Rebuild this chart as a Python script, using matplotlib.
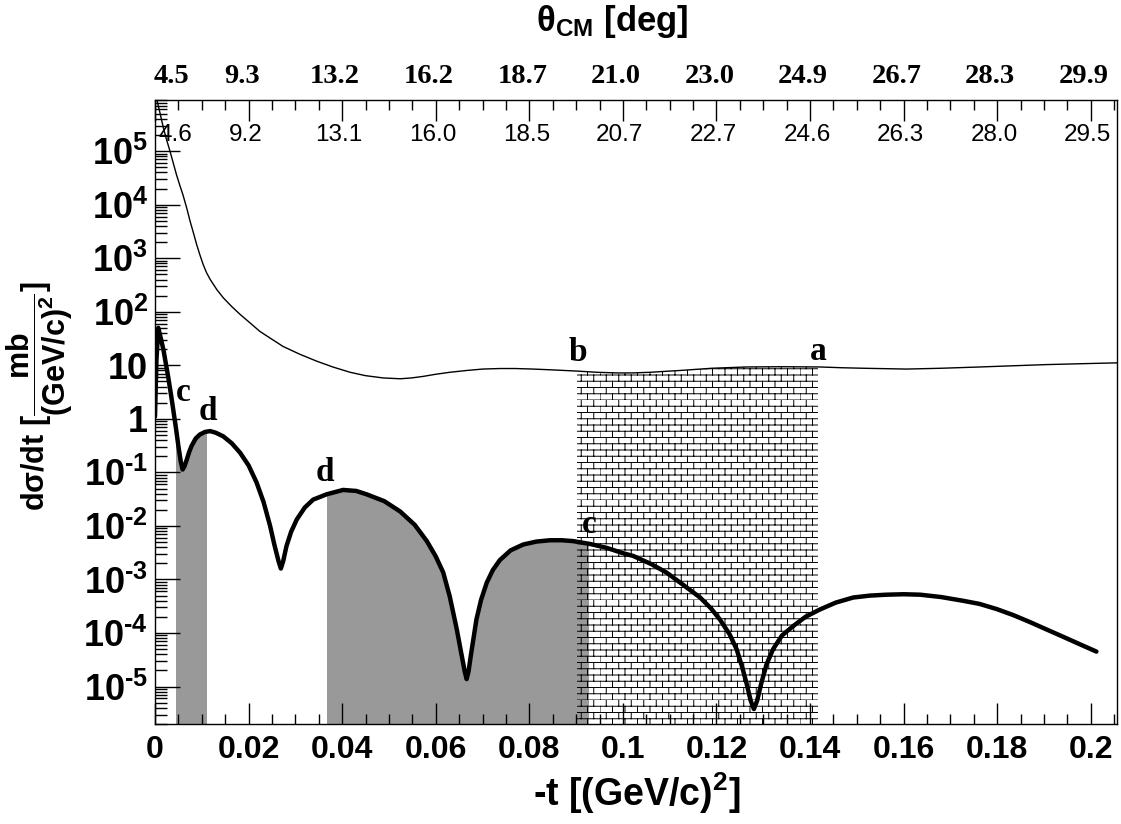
import warnings
import numpy as np
import matplotlib
matplotlib.use("Agg")
import matplotlib.pyplot as plt
from matplotlib import hatch as mhatch
from matplotlib import transforms
from matplotlib.path import Path
from matplotlib.patches import Rectangle
from matplotlib.ticker import MultipleLocator, LogLocator, FuncFormatter, NullFormatter

warnings.filterwarnings("ignore")

# upper (thin) curve: -t and dsigma/dt
t_upper = [0.0002, 0.0004, 0.0011, 0.0018, 0.0025, 0.0032, 0.0039, 0.0046, 0.0053,
           0.006, 0.0068, 0.0075, 0.0082, 0.0089, 0.0096, 0.0103, 0.011, 0.0118,
           0.0132, 0.0146, 0.0164, 0.0182, 0.0203, 0.0224, 0.0249, 0.0274, 0.031,
           0.0346, 0.038, 0.0417, 0.045, 0.0488, 0.0524, 0.0548, 0.0573, 0.06,
           0.063, 0.0666, 0.07, 0.0737, 0.077, 0.0808, 0.085, 0.0901, 0.0945,
           0.0987, 0.102, 0.1058, 0.109, 0.1122, 0.119, 0.1264, 0.134, 0.1421,
           0.1468, 0.1514, 0.1606, 0.168, 0.1763, 0.1835, 0.1905, 0.198, 0.2055]
xs_upper = [1.26e6, 9.1e5, 5.0e5, 2.7e5, 1.6e5, 1.0e5, 6.0e4, 3.6e4, 2.3e4,
            1.5e4, 8.5e3, 4.9e3, 3.0e3, 1.8e3, 1.15e3, 760, 540, 400,
            260, 182, 125, 89, 62, 43, 31, 22.4, 16,
            11.9, 9.3, 7.4, 6.4, 5.8, 5.6, 5.8, 6.2, 6.8,
            7.4, 8.0, 8.5, 8.7, 8.7, 8.5, 8.2, 7.8, 7.4,
            7.2, 7.2, 7.4, 7.7, 8.0, 8.8, 9.3, 9.4, 9.3,
            9.0, 8.8, 8.5, 8.8, 9.3, 9.8, 10.3, 10.7, 11.1]

# lower (thick) curve
t_lower = [0.0, 0.0003, 0.0007, 0.0012, 0.0018, 0.0023, 0.0028, 0.0034, 0.0039,
           0.0045, 0.005, 0.0055, 0.0059, 0.0063, 0.0068, 0.0073, 0.0078, 0.0087,
           0.0096, 0.0107, 0.0118, 0.013, 0.0146, 0.0164, 0.0182, 0.02, 0.0217,
           0.0232, 0.0246, 0.0255, 0.0264, 0.0269, 0.0274, 0.0281, 0.0291, 0.0303,
           0.032, 0.0338, 0.0367, 0.0402, 0.043, 0.0452, 0.049, 0.0524, 0.0555,
           0.0581, 0.06, 0.0616, 0.063, 0.0645, 0.0655, 0.0662, 0.0666, 0.067,
           0.0675, 0.0687, 0.0697, 0.0709, 0.0722, 0.0737, 0.076, 0.0787, 0.0815,
           0.0844, 0.087, 0.0894, 0.093, 0.0965, 0.1, 0.1022, 0.106, 0.1093,
           0.113, 0.1165, 0.1188, 0.1207, 0.1228, 0.1243, 0.1255, 0.1264, 0.1273,
           0.128, 0.1287, 0.1296, 0.1307, 0.1321, 0.134, 0.1364, 0.139, 0.1421,
           0.1455, 0.1492, 0.1528, 0.1564, 0.16, 0.1635, 0.168, 0.1727, 0.1762,
           0.1799, 0.1835, 0.187, 0.1905, 0.1941, 0.1976, 0.2012]
xs_lower = [1.1, 12, 50, 33, 19.5, 11, 6.2, 2.9, 1.48,
            0.65, 0.31, 0.16, 0.113, 0.13, 0.174, 0.24, 0.31, 0.43,
            0.51, 0.57, 0.59, 0.55, 0.47, 0.35, 0.232, 0.135, 0.065,
            0.028, 0.01, 4.5e-3, 2.2e-3, 1.6e-3, 2.2e-3, 4.2e-3, 7.8e-3, 0.0132,
            0.022, 0.031, 0.039, 0.047, 0.045, 0.039, 0.029, 0.0186, 0.0105,
            5.2e-3, 2.7e-3, 1.35e-3, 4.8e-4, 1.17e-4, 4.0e-5, 1.9e-5, 1.38e-5, 1.9e-5,
            3.8e-5, 1.8e-4, 4.2e-4, 8.7e-4, 1.5e-3, 2.3e-3, 3.5e-3, 4.5e-3, 5.1e-3,
            5.4e-3, 5.4e-3, 5.2e-3, 4.6e-3, 3.9e-3, 3.1e-3, 2.75e-3, 1.95e-3, 1.35e-3,
            7.8e-4, 4.6e-4, 2.9e-4, 1.8e-4, 9.5e-5, 5.0e-5, 2.3e-5, 1.17e-5, 5.5e-6,
            3.8e-6, 5.5e-6, 1.17e-5, 2.6e-5, 5.0e-5, 9.0e-5, 1.35e-4, 2.0e-4, 2.75e-4,
            3.7e-4, 4.6e-4, 5.0e-4, 5.2e-4, 5.3e-4, 5.2e-4, 4.7e-4, 4.0e-4, 3.5e-4,
            2.8e-4, 2.15e-4, 1.6e-4, 1.17e-4, 8.5e-5, 6.2e-5, 4.5e-5]

# shaded -t ranges
gray_ranges = [(0.0045, 0.011), (0.0367, 0.0926)]
brick_range = (0.0901, 0.1417)

# CM angle labels along the top axis
theta_t = [0.005, 0.02, 0.04, 0.06, 0.08, 0.1, 0.12, 0.14, 0.16, 0.18, 0.2]
theta_inner = ["4.6", "9.2", "13.1", "16.0", "18.5", "20.7", "22.7", "24.6", "26.3", "28.0", "29.5"]
theta_outer = ["4.5", "9.3", "13.2", "16.2", "18.7", "21.0", "23.0", "24.9", "26.7", "28.3", "29.9"]

# letter marks
mark_text = ["a", "b", "c", "c", "d", "d"]
mark_t = [0.1417, 0.0904, 0.0929, 0.0060, 0.0113, 0.0363]
mark_y = [18, 17.3, 0.0107, 3.1, 1.37, 0.1]


# brick hatch (ROOT style), registered as hatch character "b"
class Bricks(mhatch.HatchPatternBase):
    def __init__(self, hatch, density):
        self.rows = 16 if "b" in hatch else 0
        self.cols = 8
        self.num_lines = self.rows * (self.cols + 1)
        self.num_vertices = self.num_lines * 2

    def set_vertices_and_codes(self, vertices, codes):
        h = 1.0 / self.rows
        w = 1.0 / self.cols
        k = 0
        for r in range(self.rows):
            y = r * h
            vertices[k] = (0, y)
            vertices[k + 1] = (1, y)
            k += 2
            off = 0.5 * w if r % 2 else 0.0
            for c in range(self.cols):
                x = off + c * w
                vertices[k] = (x, y)
                vertices[k + 1] = (x, y + h)
                k += 2
        codes[0::2] = Path.MOVETO
        codes[1::2] = Path.LINETO


mhatch._hatch_types.append(Bricks)

plt.rcParams["font.family"] = "Liberation Sans"
plt.rcParams["font.weight"] = "bold"
plt.rcParams["mathtext.fontset"] = "custom"
plt.rcParams["mathtext.rm"] = "Liberation Sans:bold"
plt.rcParams["mathtext.it"] = "Liberation Sans:bold"
plt.rcParams["mathtext.bf"] = "Liberation Sans:bold"
plt.rcParams["mathtext.sf"] = "Liberation Sans"
plt.rcParams["hatch.linewidth"] = 0.7

fig = plt.figure(figsize=(11.21, 8.24), dpi=100)
ax = fig.add_axes([155 / 1121, 1 - 724 / 824, 962 / 1121, 624 / 824])

ymin, ymax = 2e-6, 9e5
ax.set_xlim(0, 0.2056)
ax.set_ylim(ymin, ymax)
ax.set_yscale("log")

# gray areas under the lower curve
for t0, t1 in gray_ranges:
    fb = ax.fill_between(t_lower, ymin, xs_lower, color="#999999", lw=0, zorder=1)
    fb.set_clip_path(Rectangle((t0, 0), t1 - t0, 1, transform=ax.get_xaxis_transform()))

# brick area under the upper curve
fb = ax.fill_between(t_upper, ymin, xs_upper, facecolor="none", edgecolor="black",
                     lw=0, hatch="b", zorder=2)
fb.set_clip_path(Rectangle((brick_range[0], 0), brick_range[1] - brick_range[0], 1,
                           transform=ax.get_xaxis_transform()))

ax.plot(t_upper, xs_upper, color="black", lw=1.0, zorder=3)
ax.plot(t_lower, xs_lower, color="black", lw=3.2, zorder=4,
        solid_joinstyle="round", solid_capstyle="round")

# axes ticks
ax.xaxis.set_major_locator(MultipleLocator(0.02))
ax.xaxis.set_minor_locator(MultipleLocator(0.005))
ax.xaxis.set_major_formatter(FuncFormatter(lambda v, p: "%g" % round(v, 3)))
ax.yaxis.set_major_locator(LogLocator(base=10, numticks=100))
ax.yaxis.set_minor_locator(LogLocator(base=10, subs=np.arange(2, 10), numticks=100))
ax.yaxis.set_minor_formatter(NullFormatter())


def ylab(v, pos):
    k = int(round(np.log10(v)))
    if k == 0:
        return "1"
    if k == 1:
        return "10"
    if k < 0:
        return r"$10^{\text{-}%d}$" % (-k)
    return r"$10^{%d}$" % k


ax.yaxis.set_major_formatter(FuncFormatter(ylab))
ax.tick_params(axis="x", which="both", direction="in", top=True, bottom=True, width=1.0)
ax.tick_params(axis="x", which="major", length=15, labelsize=23, pad=8)
ax.tick_params(axis="x", which="minor", length=7.5)
ax.tick_params(axis="y", which="both", direction="in", right=False, width=1.0)
ax.tick_params(axis="y", which="major", length=18, labelsize=26, pad=5)
ax.tick_params(axis="y", which="minor", length=8.5)
for s in ax.spines.values():
    s.set_linewidth(1.0)

# top angle labels
base = transforms.blended_transform_factory(ax.transData, ax.transAxes)
tr_in = transforms.offset_copy(base, fig=fig, x=-3, y=0, units="dots")
tr_out = transforms.offset_copy(base, fig=fig, x=-7, y=0, units="dots")
for t, a, b in zip(theta_t, theta_inner, theta_outer):
    ax.text(t, 0.944, a, transform=tr_in, ha="center", va="center",
            fontsize=17.5, fontweight="normal", family="Liberation Sans")
    ax.text(t, 1.037, b, transform=tr_out, ha="center", va="center",
            fontsize=20.5, fontweight="bold", family="Liberation Serif", clip_on=False)

for s, t, y in zip(mark_text, mark_t, mark_y):
    ax.text(t, y, s, ha="center", va="center", fontsize=24, fontweight="bold",
            family="Liberation Serif", zorder=5)

fig.text(612 / 1121, 1 - 22 / 824, r"$\mathsf{\theta}_{CM}$ [deg]", ha="center", va="center",
         fontsize=25)
fig.text(637 / 1121, 1 - 793 / 824, r"-t [(GeV/c)$^{2}$]", ha="center", va="center",
         fontsize=27)
fig.text(40 / 1121, 1 - 396 / 824, r"d$\mathsf{\sigma}$/dt [$\dfrac{mb}{(GeV/c)^{2}}$]",
         ha="center", va="center", rotation=90, fontsize=22)

fig.savefig("out.png", dpi=100)
